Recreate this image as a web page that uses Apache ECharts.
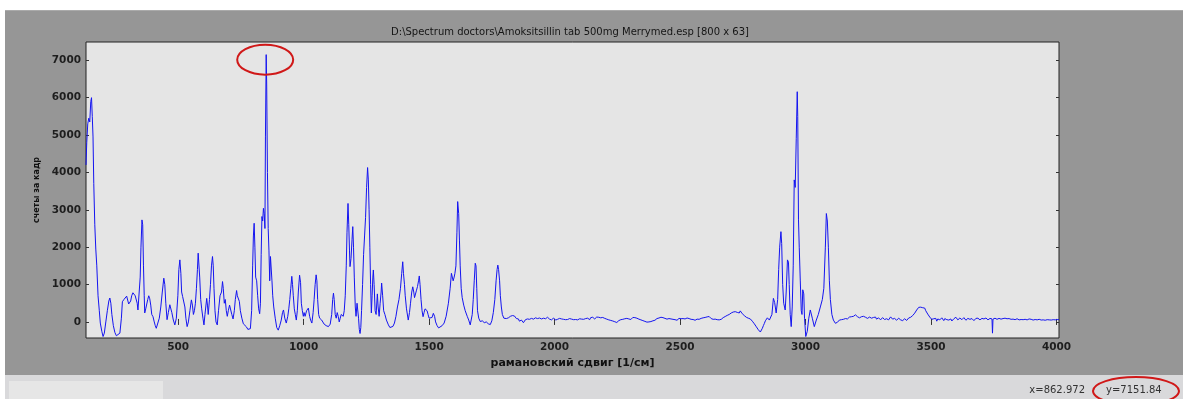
<!DOCTYPE html>
<html>
<head>
<meta charset="utf-8">
<script src="https://cdn.jsdelivr.net/npm/echarts@6/dist/echarts.min.js"></script>
<style>
html,body{margin:0;padding:0;background:#fff;}
#chart{width:1183px;height:399px;}
</style>
</head>
<body>
<div id="chart"></div>
<script>
// ---- data: [raman shift (1/cm), counts] ----
const regionLow = [
[133,4200],[136,4800],[140,5300],[144,5450],[148,5350],[152,5900],[155,6000],[158,5500],[161,4950],[164,3700],
[168,2600],[172,1950],[176,1500],[181,700],[186,300],[190,-30],[196,-250],[201,-390],[206,-300],[212,0],
[218,300],[224,560],[228,640],[232,500],[236,200],[242,-100],[248,-280],[254,-370],[261,-380],[268,-300],
[274,100],[278,540],[284,600],[290,640],[295,690],[300,560],[303,480],[307,460],[311,560],[315,700],
[320,780],[325,750],[329,700],[334,680],[337,500],[340,320],[345,300],[349,1200],[352,2000],[356,2730],
[359,2600],[362,1500],[365,700],[367,240],[371,350],[375,400],[379,600],[383,700],[387,620],[391,450],
[395,200],[400,140],[405,0],[409,-100],[413,-170],[419,-120],[425,100],[431,400],[437,800],[443,1170],
[447,1000],[451,500],[456,60],[461,250],[467,460],[471,420],[475,250],[481,50],[487,-80],[493,100],
[499,700],[503,1400],[507,1660],[511,1300],[514,800],[518,680],[523,700],[527,400],[531,100],[536,-125],
[541,0],[547,300],[553,590],[557,450],[561,200],[565,300],[569,500],[573,900],[577,1400],[580,1840],
[583,1800],[586,1200],[590,600],[594,350],[599,100],[603,-80],[607,200],[614,630],[617,450],[620,200],
[625,600],[629,1000],[633,1500],[637,1750],[640,1500],[643,900],[647,300],[651,0],[656,-80],[661,300],
[667,700],[673,800],[677,1080],[680,900],[684,500],[688,600],[692,300],[696,150],[700,300],[705,450],
[708,400],[714,200],[719,80],[724,300],[728,600],[733,840],[736,700],[740,650],[744,550],[748,300],
[754,100],[760,-50],[766,-80],[772,-130],[778,-200],[784,-220],[788,-180],[793,300],[797,1500],[800,2300]
];
const regionFingerprint = [
[803,2640],[806,2000],[809,1200],[813,1100],[817,700],[821,350],[825,220],[828,500],[831,1800],[834,2820],
[837,2700],[840,3040],[843,2900],[846,2500],[848,4950],[851,7152],[853,6340],[856,4000],[859,2500],[862,1900],
[865,1100],[868,1750],[871,1700],[874,1100],[877,700],[881,400],[887,100],[893,-150],[899,-220],[905,-100],
[911,50],[916,250],[920,320],[925,100],[931,-30],[937,150],[941,350],[945,600],[949,900],[953,1220],
[956,1000],[959,700],[963,350],[967,200],[971,50],[975,300],[979,800],[984,1250],[988,1050],[991,500],
[995,300],[999,150],[1002,250],[1006,150],[1012,300],[1019,370],[1024,150],[1028,50],[1033,-30],[1038,250],
[1042,600],[1046,1000],[1050,1260],[1053,1100],[1056,600],[1060,200],[1064,100],[1068,150],[1072,50],[1076,20],
[1082,-60],[1090,-100],[1099,-125],[1106,-60],[1112,200],[1116,600],[1119,770],[1122,600],[1126,200],[1130,100],
[1134,250],[1138,150],[1142,0],[1146,100],[1150,200],[1154,250],[1158,150],[1162,300],[1166,700],[1170,1500],
[1173,2400],[1177,3170],[1180,2600],[1183,1900],[1185,1480],[1189,1700],[1193,2200],[1196,2550],[1199,2000],[1202,1200],
[1206,400],[1209,150],[1213,500],[1216,450],[1219,100],[1222,-200],[1225,-310],[1228,-150],[1231,300],[1235,1000],
[1239,1800],[1243,2300],[1247,2800],[1251,3600],[1255,4130],[1258,3800],[1261,3000],[1264,2000],[1267,1000],[1270,240],
[1273,700],[1276,1200],[1278,1390],[1281,1000],[1285,300],[1289,200],[1294,750],[1297,400],[1301,150],[1305,500],
[1309,800],[1311,1040],[1315,700],[1319,300],[1324,200],[1330,50],[1338,-80],[1344,-150],[1351,-170],[1356,-120],
[1362,-30],[1368,150],[1374,400],[1380,600],[1386,900],[1391,1300],[1395,1610],[1398,1300],[1402,1000],[1405,700],
[1410,350],[1417,50],[1422,250],[1426,500],[1431,800],[1435,940],[1439,800],[1442,650],[1446,700],[1450,850],
[1454,950],[1458,1100],[1461,1230],[1464,1000],[1468,600],[1472,300],[1476,140],[1480,250],[1484,350],[1488,370],
[1492,300],[1496,200],[1500,100],[1506,50],[1512,120],[1517,230],[1522,150],[1526,0],[1532,-100],[1538,-160],
[1544,-140],[1552,-100],[1560,-30],[1568,150],[1577,500],[1584,900],[1589,1300],[1592,1250],[1596,1100],[1600,1200],
[1603,1300],[1607,1500],[1611,2400],[1614,3220],[1618,2900],[1621,2190],[1624,1500],[1628,900],[1632,650],[1638,450],
[1644,300],[1652,150],[1658,50],[1664,-80],[1668,-50],[1672,200],[1676,600],[1680,1100],[1684,1570],[1687,1500],
[1690,900],[1693,300],[1698,100],[1704,10],[1712,30],[1720,-20],[1728,0],[1736,-50],[1744,-70],[1750,30],
[1756,250],[1762,600],[1767,1100],[1771,1400],[1774,1520],[1777,1400],[1781,1100],[1784,700],[1788,400],[1792,200],
[1798,100],[1804,50],[1808,90],[1812,60],[1816,110],[1820,100],[1824,150],[1828,140],[1832,170],[1837,190],
[1840,160],[1844,150],[1848,90],[1852,60],[1856,80],[1860,20],[1864,70],[1868,50],[1872,10],[1876,-20]
];
const regionSilent = [
[1880,30],[1884,60],[1888,45],[1892,80],[1896,50],[1900,70],[1904,40],[1908,95],[1912,60],[1916,75],
[1920,50],[1924,110],[1928,70],[1932,90],[1936,55],[1940,105],[1944,65],[1948,80],[1952,45],[1956,100],
[1960,70],[1964,85],[1968,60],[1972,125],[1976,90],[1980,75],[1984,100],[1988,55],[1992,80],[1996,105],
[2000,60],[2004,50],[2008,90],[2012,70],[2016,115],[2020,95],[2024,65],[2028,80],[2032,100],[2036,70],
[2040,45],[2044,60],[2048,85],[2052,65],[2056,110],[2060,90],[2064,55],[2068,75],[2072,95],[2076,60],
[2080,40],[2084,65],[2088,80],[2092,55],[2096,105],[2100,85],[2104,60],[2108,75],[2112,100],[2116,70],
[2120,50],[2124,90],[2128,60],[2132,100],[2136,80],[2140,60],[2144,115],[2148,95],[2152,125],[2156,100],
[2160,80],[2164,110],[2168,130],[2172,150],[2176,125],[2180,155],[2184,110],[2188,135],[2192,120],[2196,145],
[2200,95],[2204,115],[2208,75],[2212,90],[2216,55],[2220,70],[2224,40],[2228,55],[2232,25],[2236,35],
[2240,5],[2244,15],[2248,-15],[2252,10],[2256,35],[2260,20],[2264,60],[2268,45],[2272,70],[2276,40],
[2280,85],[2284,60],[2288,95],[2292,55],[2296,80],[2300,100],[2304,65],[2308,90],[2312,120],[2316,95],
[2320,115],[2324,80],[2328,100],[2332,60],[2336,75],[2340,40],[2344,55],[2348,20],[2352,35],[2356,0],
[2360,15],[2364,-25],[2368,-5],[2372,-35],[2376,0],[2380,25],[2384,10],[2388,50],[2392,30],[2396,70],
[2400,45],[2404,60],[2408,90],[2412,65],[2416,105],[2420,85],[2424,125],[2428,100],[2432,115],[2436,80],
[2440,95],[2444,60],[2448,75],[2452,45],[2456,90],[2460,65],[2464,80],[2468,50],[2472,70],[2476,35],
[2480,60],[2484,80],[2488,45],[2492,65],[2496,95],[2500,60],[2504,85],[2508,50],[2512,90],[2516,65],
[2520,80],[2524,40],[2528,105],[2532,75],[2536,90],[2540,55],[2544,70],[2548,95],[2552,65],[2556,85],
[2560,45],[2564,30],[2568,75],[2572,55],[2576,70],[2580,40],[2584,95],[2588,75],[2592,110],[2596,70],
[2600,120],[2604,100],[2608,135],[2612,105],[2616,145],[2620,115],[2624,90],[2628,105],[2632,70],[2636,55],
[2640,75],[2644,35],[2648,60],[2652,80],[2656,55],[2660,95],[2664,70],[2668,85],[2672,115],[2676,100],
[2680,145],[2684,125],[2688,175],[2692,150],[2696,200],[2700,185],[2704,240],[2708,215],[2712,265],[2716,245],
[2720,275],[2724,230],[2728,255],[2732,270],[2736,240],[2740,295],[2744,250],[2748,220],[2752,195],[2756,170],
[2760,150],[2764,125],[2768,140],[2772,100],[2776,115],[2780,80],[2784,50],[2788,20],[2792,-10],[2796,-50],
[2800,-80],[2804,-130],[2808,-170],[2812,-210],[2816,-250],[2820,-270],[2824,-230],[2828,-170],[2832,-100],[2836,-40],
[2840,30],[2844,70],[2848,110],[2852,80],[2856,50],[2860,100]
];
const regionCH = [
[2866,200],[2872,630],[2877,520],[2883,240],[2889,600],[2893,1400],[2897,2000],[2902,2415],[2905,2100],[2909,1000],
[2913,500],[2919,320],[2923,800],[2928,1660],[2932,1600],[2935,1000],[2939,200],[2943,-125],[2947,400],[2951,1500],
[2955,3800],[2959,3600],[2963,4900],[2967,6160],[2969,5500],[2972,2730],[2975,2000],[2979,1120],[2983,300],[2986,200],
[2989,860],[2993,750],[2996,100],[3001,-390],[3007,-250],[3013,100],[3019,320],[3023,300],[3027,100],[3035,-125],
[3043,50],[3051,200],[3059,400],[3067,600],[3073,900],[3079,2000],[3083,2900],[3087,2700],[3091,2000],[3095,1100],
[3099,600],[3105,200],[3111,50],[3115,10],[3119,-36],[3123,10],[3127,-10],[3131,20],[3135,50],[3139,30],
[3143,60],[3147,100],[3151,70],[3155,110],[3159,90],[3163,120],[3167,80],[3171,110],[3175,130],[3179,100],
[3183,140],[3187,110],[3191,150],[3195,170],[3199,190],[3203,160],[3207,140],[3211,130]
];
const regionHigh = [
[3215,110],[3219,80],[3223,140],[3227,120],[3231,150],[3235,100],[3239,125],[3243,140],[3247,95],[3251,115],
[3255,130],[3259,145],[3263,100],[3267,85],[3271,120],[3275,105],[3279,130],[3283,75],[3287,95],[3291,110],
[3295,70],[3299,55],[3303,95],[3307,115],[3311,80],[3315,65],[3319,100],[3323,85],[3327,110],[3331,55],
[3335,90],[3339,135],[3343,100],[3347,75],[3351,110],[3355,95],[3359,60],[3363,45],[3367,85],[3371,100],
[3375,70],[3379,55],[3383,80],[3387,35],[3391,65],[3395,85],[3399,50],[3403,40],[3407,80],[3411,105],
[3415,90],[3419,125],[3423,140],[3427,170],[3431,200],[3435,235],[3439,270],[3443,320],[3447,360],[3451,390],
[3455,415],[3459,395],[3463,365],[3467,380],[3471,405],[3475,370],[3479,300],[3483,250],[3487,210],[3491,160],
[3495,130],[3499,95],[3503,70],[3507,110],[3511,85],[3515,40],[3519,95],[3523,20],[3527,80],[3531,100],
[3535,55],[3539,45],[3543,110],[3547,80],[3551,35],[3555,90],[3559,105],[3563,60],[3567,75],[3571,50],
[3575,95],[3579,80],[3583,25],[3587,60],[3591,85],[3595,110],[3599,125],[3603,80],[3607,55],[3611,95],
[3615,105],[3619,70],[3623,60],[3627,100],[3631,115],[3635,75],[3639,45],[3643,85],[3647,95],[3651,60],
[3655,70],[3659,105],[3663,90],[3667,45],[3671,35],[3675,75],[3679,95],[3683,110],[3687,100],[3691,65],
[3695,55],[3699,90],[3703,95],[3707,70],[3711,80],[3715,100],[3719,105],[3723,75],[3727,55],[3731,90],
[3735,95],[3739,70],[3743,80],[3745,-300],[3747,75],[3751,110],[3755,100],[3759,85],[3763,70],[3767,105],
[3771,95],[3775,60],[3779,75],[3783,100],[3787,90],[3791,115],[3795,100],[3799,70],[3803,85],[3807,105],
[3811,90],[3815,55],[3819,70],[3823,85],[3827,75],[3831,45],[3835,60],[3839,90],[3843,85],[3847,35],
[3851,55],[3855,75],[3859,65],[3863,40],[3867,60],[3871,85],[3875,70],[3879,35],[3883,55],[3887,65],
[3891,80],[3895,95],[3899,70],[3903,35],[3907,50],[3911,75],[3915,65],[3919,45],[3923,55],[3927,85],
[3931,70],[3935,40],[3939,50],[3943,65],[3947,55],[3951,25],[3955,45],[3959,75],[3963,60],[3967,45],
[3971,55],[3975,70],[3979,50],[3983,35],[3987,60],[3991,75],[3995,55],[3999,40],[4003,65],[4007,55],[4010,60]
];
const xTicks = [500,1000,1500,2000,2500,3000,3500,4000];
const yTicks = [0,1000,2000,3000,4000,5000,6000,7000];
const xRange = [133,4010];
const yRange = [-430,7490];
const titleText = 'D:\\Spectrum doctors\\Amoksitsillin tab 500mg Merrymed.esp [800 x 63]';
const xName = 'рамановский сдвиг [1/см]';
const yName = 'счеты за кадр';
const cursorX = 'x=862.972';
const cursorY = 'y=7151.84';

const spectrum = [].concat(regionLow, regionFingerprint, regionSilent, regionCH, regionHigh);

const chart = echarts.init(document.getElementById('chart'), null, {renderer:'canvas'});
const labelFont = {fontFamily:'DejaVu Sans', fontSize:10.5, fontWeight:'bold', color:'#1e1e1e',
  formatter: v => String(v)};
const tickStyle = {show:true, inside:true, length:3, lineStyle:{color:'#333', width:1}};

function mkX(pos, showLabel){
  return {type:'value', position:pos, min:xRange[0], max:xRange[1],
    axisLine:{show:false}, splitLine:{show:false},
    axisTick:Object.assign({customValues:xTicks}, tickStyle),
    axisLabel:Object.assign({show:showLabel, customValues:xTicks, margin:4}, labelFont),
    name: showLabel ? xName : '', nameLocation:'middle', nameGap:17,
    nameTextStyle:{fontFamily:'DejaVu Sans', fontSize:11, fontWeight:'bold', color:'#111'}};
}
function mkY(pos, showLabel){
  return {type:'value', position:pos, min:yRange[0], max:yRange[1],
    axisLine:{show:false}, splitLine:{show:false},
    axisTick:Object.assign({customValues:yTicks}, tickStyle),
    axisLabel:Object.assign({show:showLabel, customValues:yTicks, margin:5}, labelFont),
    name: showLabel ? yName : '', nameLocation:'middle', nameGap:40, nameRotate:90,
    nameTextStyle:{fontFamily:'DejaVu Sans', fontSize:8, fontWeight:'bold', color:'#111'}};
}

const option = {
  animation:false,
  backgroundColor:'#969696',
  grid:{left:86, top:42, width:973, height:296, show:true, backgroundColor:'#e5e5e5',
        borderColor:'#222', borderWidth:1, containLabel:false},
  xAxis:[mkX('bottom', true), mkX('top', false)],
  yAxis:[mkY('left', true), mkY('right', false)],
  series:[{type:'line', data:spectrum, xAxisIndex:0, yAxisIndex:0, showSymbol:false, symbol:'none',
    lineStyle:{color:'#1414f0', width:1}, silent:true, clip:true}],
  graphic:[
    {type:'rect', shape:{x:0,y:0,width:1183,height:10}, style:{fill:'#ffffff'}},
    {type:'rect', shape:{x:0,y:10,width:5,height:389}, style:{fill:'#ffffff'}},
    {type:'rect', shape:{x:5,y:10,width:1178,height:1}, style:{fill:'#aaaaaa'}},
    {type:'rect', shape:{x:5,y:375,width:1178,height:24}, style:{fill:'#d9d9db'}},
    {type:'rect', shape:{x:9,y:381,width:154,height:18}, style:{fill:'#e6e6e6'}},
    {type:'text', x:570, y:32, style:{text:titleText, fontFamily:'DejaVu Sans', fontSize:10,
      fill:'#151515', align:'center', verticalAlign:'middle'}},
    {type:'text', x:1085, y:390, style:{text:cursorX, fontFamily:'DejaVu Sans', fontSize:10,
      fill:'#333', align:'right', verticalAlign:'middle'}},
    {type:'text', x:1106, y:390, style:{text:cursorY, fontFamily:'DejaVu Sans', fontSize:10,
      fill:'#333', align:'left', verticalAlign:'middle'}},
    {type:'ellipse', shape:{cx:1136, cy:391, rx:43, ry:14}, style:{fill:'none', stroke:'#d01818', lineWidth:2}}
  ]
};
chart.setOption(option);

// red ellipse around the tallest peak, located through the axes
let peak = spectrum[0];
spectrum.forEach(p => { if (p[1] > peak[1]) peak = p; });
const pp = chart.convertToPixel({xAxisIndex:0, yAxisIndex:0}, peak);
option.graphic.push({type:'ellipse', shape:{cx:pp[0]-1, cy:pp[1]+5, rx:28, ry:15},
  style:{fill:'none', stroke:'#d01818', lineWidth:2}, z:100});
chart.setOption({graphic:option.graphic});
</script>
</body>
</html>
